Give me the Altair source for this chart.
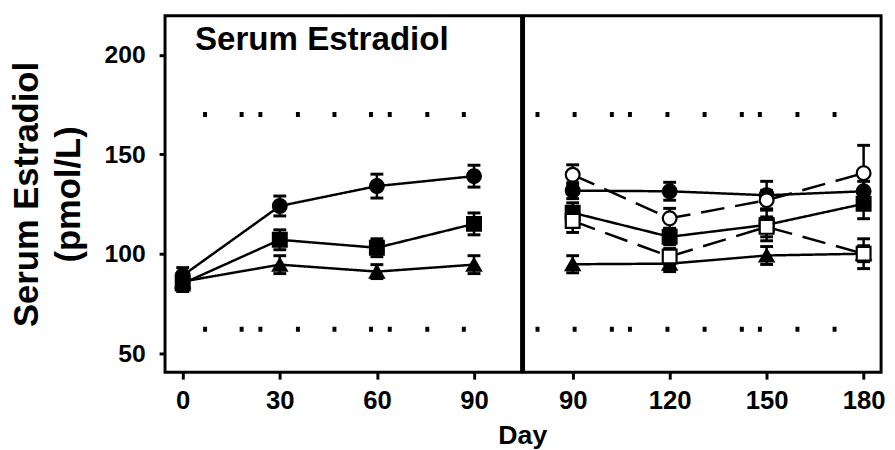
import altair as alt
import pandas as pd

# ---------------- data ----------------
days_left = [0, 30, 60, 90]
days_right = [90, 120, 150, 180]

left_filled_circle = [89, 124, 134, 139]
left_filled_circle_err = [4, 5, 6, 5.5]
left_filled_square = [85, 107, 103, 115]
left_filled_square_err = [4, 5, 4.5, 5.5]
left_filled_triangle = [86, 94.5, 91, 94.5]
left_filled_triangle_err = [3.5, 4.5, 3.5, 4.5]

right_filled_circle = [131.7, 131.4, 129.4, 131.4]
right_filled_circle_err = [4, 4.5, 7, 5]
right_filled_square = [120.6, 108.5, 114.5, 125.1]
right_filled_square_err = [5, 4, 8, 7.5]
right_filled_triangle = [94.7, 95, 99.1, 100]
right_filled_triangle_err = [4.3, 4, 4.5, 4]
right_open_circle = [139.7, 117.8, 126.9, 140.5]
right_open_circle_err = [5, 5, 5, 14]
right_open_square = [116.5, 98.6, 113.5, 100]
right_open_square_err = [5.8, 4, 5, 7.5]

normal_range = [170, 62]
ref_span_left = [6.3, 92.6]
ref_span_right = [78.5, 177.4]

panel_label = ["Serum Estradiol"]
panel_label_day = [3.8]
panel_label_value = [202.6]

y_ticks = [50, 100, 150, 200]
y_domain = [40.4, 219.7]
x_domain_left = [-5.46, 104.7]
x_domain_right = [74.8, 185.4]

series_order = ["filled circle", "filled square", "filled triangle", "open circle", "open square"]
shape_range = ["circle", "square", "triangle-up", "circle", "square"]
fill_range = ["black", "black", "black", "white", "white"]
dash_range = [[1, 0], [1, 0], [1, 0], [24, 11], [24, 11]]


def build(days, series):
    rows = []
    for name, vals, errs in series:
        for d, v, e in zip(days, vals, errs):
            rows.append({"series": name, "day": d, "value": v, "lo": v - e, "hi": v + e})
    return pd.DataFrame(rows)


df_left = build(days_left, [
    ("filled circle", left_filled_circle, left_filled_circle_err),
    ("filled square", left_filled_square, left_filled_square_err),
    ("filled triangle", left_filled_triangle, left_filled_triangle_err),
])
df_right = build(days_right, [
    ("filled circle", right_filled_circle, right_filled_circle_err),
    ("filled square", right_filled_square, right_filled_square_err),
    ("filled triangle", right_filled_triangle, right_filled_triangle_err),
    ("open circle", right_open_circle, right_open_circle_err),
    ("open square", right_open_square, right_open_square_err),
])

FONT = "Liberation Sans"
W_LEFT, W_RIGHT, H = 361, 362, 361


def panel(df, xdom, ticks, span, dash, left):
    if left:
        xaxis = alt.Axis(values=ticks, title="Day", titleX=361.7, titleY=72,
                         titleBaseline="alphabetic", titleAnchor="middle", titleAlign="center",
                         titleFontSize=27, titleFont=FONT, titleFontWeight="bold", titleColor="black")
    else:
        xaxis = alt.Axis(values=ticks, title=None)
    sx = alt.Scale(domain=xdom, nice=False, zero=False)
    sy = alt.Scale(domain=y_domain, nice=False, zero=False)
    if left:
        yaxis = alt.Axis(values=y_ticks, title=["Serum Estradiol", "(pmol/L)"],
                         titleX=-122, titleFontSize=35, titleLineHeight=42,
                         titleFont=FONT, titleFontWeight="bold", titleColor="black",
                         labelFontSize=25, labelPadding=14, tickSize=6)
    else:
        yaxis = None

    def X(f):
        return alt.X(f, type="quantitative", scale=sx, axis=xaxis)

    def Y(f):
        return alt.Y(f, type="quantitative", scale=sy, axis=yaxis)

    base = alt.Chart(df)
    ref = alt.Chart(pd.DataFrame({"level": normal_range, "x0": [span[0]] * 2, "x1": [span[1]] * 2}))
    refs = ref.mark_rule(color="black", strokeWidth=5, strokeDash=dash, strokeCap="butt").encode(
        x=X("x0"), x2="x1:Q", y=Y("level"))
    lines = base.mark_line(color="black", strokeWidth=2.5).encode(
        x=X("day"), y=Y("value"), detail="series:N",
        strokeDash=alt.StrokeDash("series:N", scale=alt.Scale(domain=series_order, range=dash_range), legend=None))
    bars = base.mark_rule(color="black", strokeWidth=2.5).encode(x=X("day"), y=Y("lo"), y2="hi:Q")
    cap_lo = base.mark_tick(orient="horizontal", size=13, thickness=3, color="black", opacity=1).encode(x=X("day"), y=Y("lo"))
    cap_hi = base.mark_tick(orient="horizontal", size=13, thickness=3, color="black", opacity=1).encode(x=X("day"), y=Y("hi"))
    pts = base.mark_point(filled=True, size=195, stroke="black", strokeWidth=2.2, opacity=1).encode(
        x=X("day"), y=Y("value"),
        shape=alt.Shape("series:N", scale=alt.Scale(domain=series_order, range=shape_range), legend=None),
        fill=alt.Fill("series:N", scale=alt.Scale(domain=series_order, range=fill_range), legend=None))
    layers = [refs, lines, bars, cap_lo, cap_hi, pts]
    if left:
        lab = alt.Chart(pd.DataFrame({"label": panel_label, "day": panel_label_day, "value": panel_label_value}))
        layers.append(lab.mark_text(align="left", baseline="alphabetic", fontSize=33.5, font=FONT,
                                    fontWeight="bold", color="black").encode(
            x=X("day"), y=Y("value"), text="label:N"))
    return alt.layer(*layers).properties(width=W_LEFT if left else W_RIGHT, height=H)


left = panel(df_left, x_domain_left, days_left, ref_span_left, [4, 33, 4, 15, 4, 34, 4, 33], True)
right = panel(df_right, x_domain_right, days_right, ref_span_right, [4, 33.6, 4, 33.7, 4, 14.3, 4, 34], False)

chart = alt.hconcat(left, right, spacing=2, bounds="flush").properties(
    padding={"left": 0, "top": 3, "right": 0, "bottom": 0},
    background="white",
).configure_view(stroke="black", strokeWidth=3).configure_axis(
    grid=False, domain=False, ticks=True, tickColor="black", tickWidth=3,
    labelFont=FONT, labelFontWeight="bold", labelColor="black", labelFontSize=26,
).configure_axisX(tickSize=7, labelPadding=9).configure_axisY(tickSize=6)

chart.save("out.html", embed_options={"renderer": "svg", "actions": False})
